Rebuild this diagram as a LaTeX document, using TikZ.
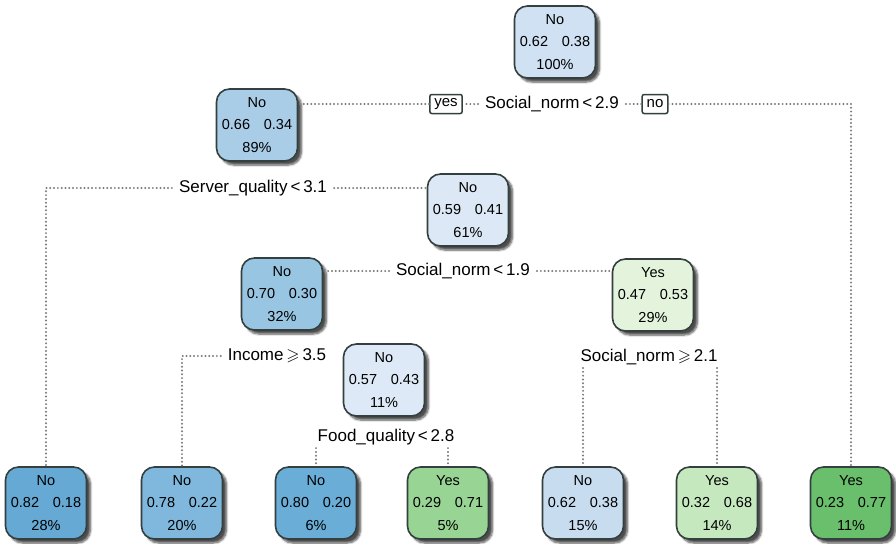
\documentclass[tikz,border=0pt]{standalone}
\usepackage{amssymb}
\usepackage{fontspec}
\setmainfont{Liberation Sans}
\usetikzlibrary{shadows.blur}
\definecolor{cRoot}{HTML}{CFE1F3}
\definecolor{cNtwo}{HTML}{A9CDE7}
\definecolor{cNthree}{HTML}{DCE8F5}
\definecolor{cNfour}{HTML}{98C5E2}
\definecolor{cNfive}{HTML}{E4F4DC}
\definecolor{cNsix}{HTML}{DDE9F6}
\definecolor{cLa}{HTML}{66A9D5}
\definecolor{cLb}{HTML}{7FB8DC}
\definecolor{cLc}{HTML}{6AADD7}
\definecolor{cLd}{HTML}{98D594}
\definecolor{cLe}{HTML}{C8DCF0}
\definecolor{cLf}{HTML}{C5E8BE}
\definecolor{cLg}{HTML}{6ABF6D}
\definecolor{cBorder}{HTML}{34403F}
\definecolor{cDot}{HTML}{7A7A7A}
\tikzset{
  treebox/.style={draw=cBorder, line width=1.6pt, rounded corners=13pt,
    minimum width=81pt, minimum height=72pt, inner sep=0pt, align=center,
    font=\fontsize{14.5}{22.5}\selectfont,
    blur shadow={shadow xshift=4pt, shadow yshift=-4pt, shadow blur steps=6, shadow opacity=70}},
  splitlab/.style={inner xsep=7pt, inner ysep=3pt, font=\fontsize{17}{20}\selectfont},
  yn/.style={draw=cBorder, line width=1.5pt, rounded corners=2pt, inner xsep=4.5pt, inner ysep=0pt,
    minimum height=19pt, font=\fontsize{15}{17}\selectfont, fill=white},
  dotline/.style={draw=cDot, line width=2.2pt, line cap=round, dash pattern=on 0pt off 3.8pt}
}
\newcommand{\pr}[2]{#1\hspace{0.95em}#2}
\begin{document}
\begin{tikzpicture}[x=1pt,y=-1pt]
\useasboundingbox (0,0) rectangle (896,543);
% internal nodes
\node[treebox, fill=cRoot] (root) at (555,42) {No\\\pr{0.62}{0.38}\\100\%};
\node[treebox, fill=cNtwo] (n2) at (257,125) {No\\\pr{0.66}{0.34}\\89\%};
\node[treebox, fill=cNthree] (n3) at (468,210) {No\\\pr{0.59}{0.41}\\61\%};
\node[treebox, fill=cNfour] (n4) at (282,294) {No\\\pr{0.70}{0.30}\\32\%};
\node[treebox, fill=cNfive] (n5) at (653,295) {Yes\\\pr{0.47}{0.53}\\29\%};
\node[treebox, fill=cNsix] (n6) at (384,380) {No\\\pr{0.57}{0.43}\\11\%};
% leaves
\node[treebox, fill=cLa] (l1) at (46,503) {No\\\pr{0.82}{0.18}\\28\%};
\node[treebox, fill=cLb] (l2) at (182,503) {No\\\pr{0.78}{0.22}\\20\%};
\node[treebox, fill=cLc] (l3) at (316,503) {No\\\pr{0.80}{0.20}\\6\%};
\node[treebox, fill=cLd] (l4) at (448,503) {Yes\\\pr{0.29}{0.71}\\5\%};
\node[treebox, fill=cLe] (l5) at (583,503) {No\\\pr{0.62}{0.38}\\15\%};
\node[treebox, fill=cLf] (l6) at (717,503) {Yes\\\pr{0.32}{0.68}\\14\%};
\node[treebox, fill=cLg] (l7) at (851,503) {Yes\\\pr{0.23}{0.77}\\11\%};
% split labels
\node[splitlab] (s1) at (552,104) {Social\_norm\,<\,2.9};
\node[splitlab] (s2) at (253,188) {Server\_quality\,<\,3.1};
\node[splitlab] (s3) at (463,271) {Social\_norm\,<\,1.9};
\node[splitlab] (s4) at (277,356) {Income\,$\geqslant$\,3.5};
\node[splitlab] (s5) at (386,437) {Food\_quality\,<\,2.8};
\node[splitlab] (s6) at (649,357) {Social\_norm\,$\geqslant$\,2.1};
\node[yn] (yes) at (446,104) {yes};
\node[yn] (no) at (655,104) {no};
% connectors
\draw[dotline] (s1.west) -- (yes.east);
\draw[dotline] (yes.west) -- (n2.east |- yes);
\draw[dotline] (s1.east) -- (no.west);
\draw[dotline] (no.east) -- (l7 |- no) -- (l7.north);
\draw[dotline] (s2.west) -- (l1 |- s2) -- (l1.north);
\draw[dotline] (s2.east) -- (n3.west |- s2);
\draw[dotline] (s3.west) -- (n4.east |- s3);
\draw[dotline] (s3.east) -- (n5.west |- s3);
\draw[dotline] (s4.west) -- (l2 |- s4) -- (l2.north);
\draw[dotline] (l3 |- s5.south) -- (l3.north);
\draw[dotline] (l4 |- s5.south) -- (l4.north);
\draw[dotline] (l5 |- s6.south) -- (l5.north);
\draw[dotline] (l6 |- s6.south) -- (l6.north);
\end{tikzpicture}
\end{document}
